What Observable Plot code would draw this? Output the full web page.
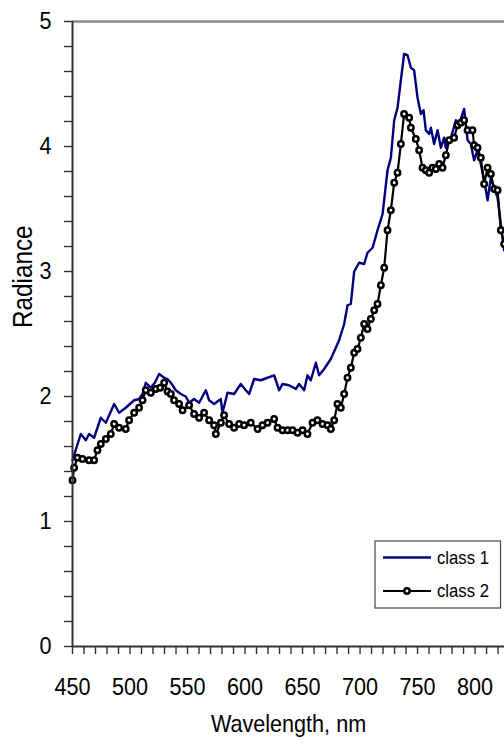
<!DOCTYPE html>
<html>
<head>
<meta charset="utf-8">
<script src="https://cdn.jsdelivr.net/npm/d3@7"></script>
<script src="https://cdn.jsdelivr.net/npm/@observablehq/plot@0.6"></script>
<style>
  html, body { margin: 0; padding: 0; background: #fff; overflow: hidden; }
</style>
</head>
<body>
<div id="chart"></div>
<script>
// Radiance spectra of two classes, 450–825 nm
const wavelength1 = [450, 457.2, 461.6, 464.4, 468.8, 474.6, 479.0, 486.2, 490.5, 496.3, 503.6, 507.9, 510.9, 513.7, 518.1, 521.6, 525.3, 529.7, 532.6, 535.5, 539.8, 544.2, 548.5, 551.4, 555.7, 560.1, 565.9, 568.8, 573.1, 578.9, 580.4, 584.8, 590.5, 596.3, 600.7, 603.6, 607.9, 613.7, 619.6, 625.3, 629.7, 632.6, 638.3, 644.2, 647.0, 651.4, 654.3, 657.2, 661.6, 664.4, 668.8, 674.6, 678.9, 681.8, 686.2, 689.1, 692.0, 694.9, 699.2, 703.6, 706.5, 710.9, 715.2, 719.6, 723.9, 726.8, 729.7, 732.6, 735.5, 738.3, 741.3, 744.2, 747.0, 750.0, 752.9, 755.2, 757.2, 760.1, 761.6, 764.4, 767.4, 770.3, 773.1, 774.6, 779.0, 783.3, 786.2, 790.5, 793.5, 796.3, 799.2, 802.2, 805.0, 807.9, 810.9, 813.7, 816.6, 819.6, 822.4, 825.3];
const radiance1 = [1.49, 1.70, 1.65, 1.70, 1.67, 1.83, 1.79, 1.94, 1.87, 1.91, 1.97, 1.98, 2.02, 2.11, 2.07, 2.11, 2.18, 2.15, 2.14, 2.11, 2.05, 2.02, 2.00, 1.95, 1.98, 1.95, 2.05, 1.97, 1.94, 1.98, 1.87, 2.03, 2.02, 2.10, 2.05, 2.02, 2.14, 2.13, 2.15, 2.17, 2.05, 2.10, 2.09, 2.06, 2.10, 2.05, 2.17, 2.13, 2.27, 2.17, 2.22, 2.30, 2.39, 2.45, 2.58, 2.73, 2.74, 3.00, 3.07, 3.06, 3.15, 3.19, 3.33, 3.46, 3.81, 3.91, 4.21, 4.31, 4.53, 4.74, 4.73, 4.63, 4.61, 4.39, 4.26, 4.29, 4.13, 4.10, 4.15, 4.02, 4.13, 3.99, 4.07, 3.99, 4.07, 4.21, 4.18, 4.30, 4.05, 4.02, 3.89, 3.97, 3.86, 3.73, 3.57, 3.75, 3.67, 3.59, 3.38, 3.17];

const wavelength2 = [450, 451.4, 454.3, 458.7, 464.4, 468.8, 471.7, 474.6, 479.0, 483.3, 486.2, 490.5, 496.3, 499.2, 503.6, 507.9, 510.9, 513.7, 518.1, 522.4, 526.2, 529.7, 532.6, 535.5, 538.3, 542.7, 545.7, 551.4, 555.7, 560.1, 564.4, 568.8, 573.1, 574.6, 579.0, 581.8, 586.2, 590.5, 594.9, 599.2, 605.0, 610.9, 615.2, 619.6, 625.3, 628.3, 632.6, 637.0, 641.3, 645.7, 650.0, 654.3, 658.7, 663.0, 667.4, 671.7, 674.6, 677.5, 680.4, 683.3, 686.2, 689.1, 692.0, 694.9, 697.8, 700.7, 703.6, 706.5, 709.4, 712.3, 715.2, 718.1, 721.0, 723.9, 726.8, 729.7, 732.6, 735.5, 738.3, 742.7, 744.2, 748.5, 751.4, 754.3, 757.2, 760.1, 763.0, 765.9, 768.8, 771.7, 774.6, 777.5, 781.8, 784.8, 787.6, 790.5, 793.5, 797.8, 799.2, 802.2, 805.0, 807.9, 810.9, 813.7, 816.6, 819.6, 822.4, 825.3];
const radiance2 = [1.33, 1.43, 1.51, 1.50, 1.49, 1.49, 1.57, 1.62, 1.66, 1.70, 1.78, 1.75, 1.74, 1.81, 1.87, 1.91, 1.97, 2.05, 2.03, 2.06, 2.07, 2.11, 2.04, 2.02, 1.97, 1.94, 1.89, 1.93, 1.86, 1.83, 1.87, 1.81, 1.77, 1.70, 1.79, 1.85, 1.78, 1.75, 1.78, 1.77, 1.79, 1.74, 1.77, 1.79, 1.82, 1.75, 1.73, 1.73, 1.73, 1.71, 1.73, 1.70, 1.79, 1.81, 1.78, 1.77, 1.74, 1.81, 1.94, 1.91, 2.02, 2.15, 2.23, 2.35, 2.38, 2.47, 2.58, 2.54, 2.62, 2.69, 2.74, 2.89, 3.03, 3.33, 3.49, 3.71, 3.79, 4.02, 4.26, 4.23, 4.15, 4.06, 3.97, 3.83, 3.81, 3.79, 3.83, 3.82, 3.86, 3.83, 3.93, 4.05, 4.07, 4.17, 4.19, 4.21, 4.13, 4.13, 4.01, 3.99, 3.91, 3.70, 3.83, 3.78, 3.66, 3.65, 3.33, 3.22];

const seriesNames = ["class 1", "class 2"];
const seriesColors = ["#000080", "#000000"];

const yTicks = d3.range(0, 26).map(i => i / 5);          // minor every 0.2
const yTickLabels = ["0", "1", "2", "3", "4", "5"];
const xTicks = d3.range(450, 830, 10);                   // minor every 10 nm
const xTickLabels = ["450", "500", "550", "600", "650", "700", "750", "800"];

const class1 = wavelength1.map((w, i) => ({wavelength: w, radiance: radiance1[i]}));
const class2 = wavelength2.map((w, i) => ({wavelength: w, radiance: radiance2[i]}));

const FONT = "'Liberation Sans', Arial, Helvetica, sans-serif";

const chart = Plot.plot({
  width: 504,
  height: 744,
  marginLeft: 72,
  marginRight: 0,
  marginTop: 21,
  marginBottom: 98,
  style: {fontFamily: FONT, background: "#fff", color: "#000", overflow: "visible"},
  x: {domain: [450, 825.6]},
  y: {domain: [0, 5]},
  marks: [
    Plot.ruleY([5], {stroke: "#8a8a8a", strokeWidth: 2.5}),
    Plot.line(class1, {x: "wavelength", y: "radiance", stroke: seriesColors[0], strokeWidth: 2.4}),
    Plot.line(class2, {x: "wavelength", y: "radiance", stroke: seriesColors[1], strokeWidth: 2.2}),
    Plot.dot(class2, {x: "wavelength", y: "radiance", r: 2.7, fill: "#fff", stroke: seriesColors[1], strokeWidth: 2.5}),
    Plot.axisY({
      ticks: yTicks,
      tickFormat: d => (Math.abs(d - Math.round(d)) < 1e-9 ? yTickLabels[Math.round(d)] : ""),
      tickSize: 8, tickPadding: 13, fontSize: 24,
      stroke: "#333", strokeWidth: 1.4, label: null
    }),
    Plot.axisX({
      ticks: xTicks,
      tickFormat: d => (d % 50 === 0 ? xTickLabels[(d - 450) / 50] : ""),
      tickSize: 8, tickPadding: 23, fontSize: 24,
      stroke: "#333", strokeWidth: 1.4, label: null
    }),
    Plot.ruleX([450], {stroke: "#333", strokeWidth: 2}),
    Plot.ruleY([0], {stroke: "#333", strokeWidth: 2}),
    Plot.text(["Radiance"], {frameAnchor: "left", rotate: -90, dx: -49, dy: -6, fontSize: 27, fill: "#000", ariaLabel: "y title"}),
    Plot.text(["Wavelength, nm"], {frameAnchor: "bottom", dy: 85, fontSize: 24, fill: "#000", ariaLabel: "x title"})
  ]
});

// The horizontal labels use a slightly condensed face
const SQUEEZE = 0.9;
chart.querySelectorAll("text").forEach(t => {
  if (t.closest('g[aria-label="y title"]')) return;
  const x = t.getAttribute("x");
  if (x != null && !isNaN(+x)) t.setAttribute("x", +x / SQUEEZE);
  t.setAttribute("transform", `${t.getAttribute("transform") || ""} scale(${SQUEEZE},1)`);
});

// Legend box, lower right of the plot area
const svg = d3.select(chart);
const legend = svg.append("g").attr("aria-label", "legend");
legend.append("rect")
  .attr("x", 375).attr("y", 541).attr("width", 125.5).attr("height", 67)
  .attr("fill", "#fff").attr("stroke", "#444").attr("stroke-width", 1.2);
seriesNames.forEach((name, i) => {
  const cy = 557.5 + i * 33.5;
  legend.append("line")
    .attr("x1", 383).attr("x2", 431).attr("y1", cy).attr("y2", cy)
    .attr("stroke", seriesColors[i]).attr("stroke-width", i === 0 ? 2.4 : 2.2);
  if (i === 1) {
    legend.append("circle").attr("cx", 407).attr("cy", cy).attr("r", 2.7)
      .attr("fill", "#fff").attr("stroke", seriesColors[i]).attr("stroke-width", 2.5);
  }
  legend.append("text")
    .attr("transform", `translate(437,${cy}) scale(0.88,1)`)
    .attr("text-anchor", "start")
    .attr("dy", "0.34em")
    .style("font-family", FONT)
    .style("font-size", "19px")
    .style("fill", "#000")
    .text(name);
});

document.getElementById("chart").appendChild(chart);
</script>
</body>
</html>
